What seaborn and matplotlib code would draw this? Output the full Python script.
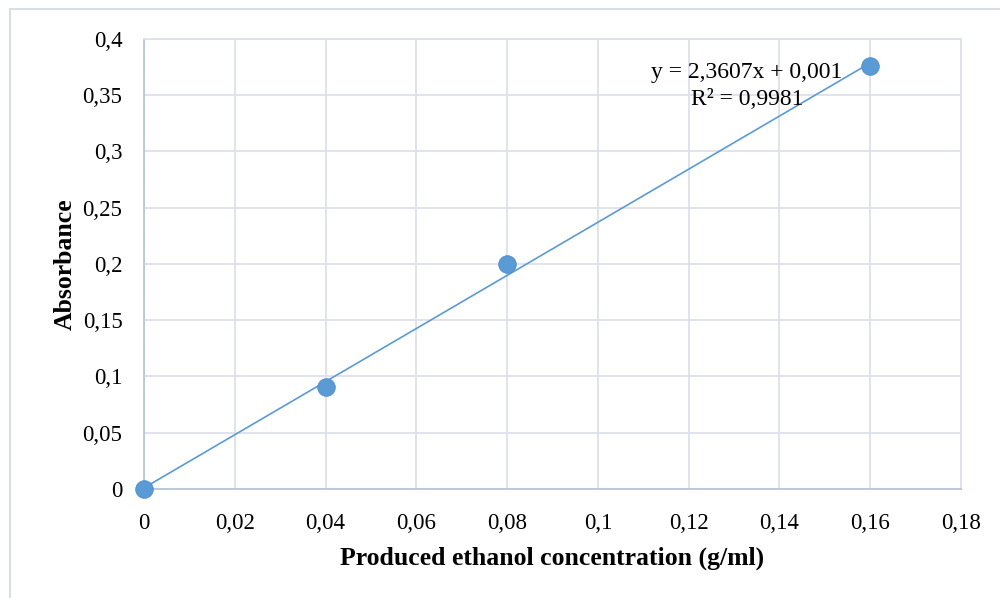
#Calibration curve: absorbance vs produced ethanol concentration

#import libraries
import numpy as np
import pandas as pd
import matplotlib
matplotlib.use('Agg')
import matplotlib.pyplot as plt
import seaborn as sns
from matplotlib.patches import Rectangle

#data
concentration = [0.0, 0.04, 0.08, 0.16]
absorbance = [0.0, 0.091, 0.2, 0.376]
#trendline as reported on the chart
slope = 2.3607
intercept = 0.001
r_squared = 0.9981
x_ticks = [0, 0.02, 0.04, 0.06, 0.08, 0.1, 0.12, 0.14, 0.16, 0.18]
y_ticks = [0, 0.05, 0.1, 0.15, 0.2, 0.25, 0.3, 0.35, 0.4]

df = pd.DataFrame({'conc': concentration, 'abs': absorbance})
trend = pd.DataFrame({'conc': [min(concentration), max(concentration)]})
trend['abs'] = slope * trend['conc'] + intercept

sns.set_style('white')
plt.rcParams['font.family'] = ['Liberation Serif', 'DejaVu Serif']
plt.rcParams['text.color'] = 'black'
plt.rcParams['axes.labelcolor'] = 'black'

blue = '#5b9bd5'
grid_col = '#dde1ea'
axis_col = '#b9c4da'

fig = plt.figure(figsize=(10, 5.98), dpi=100)
ax = fig.add_axes([0.144, 0.1823, 0.817, 0.7525])

#trendline then points
sns.lineplot(data=trend, x='conc', y='abs', color=blue, linewidth=1.2, ax=ax, zorder=3)
sns.scatterplot(data=df, x='conc', y='abs', color=blue, s=160, edgecolor='#4a8ccc',
                linewidth=0.6, ax=ax, zorder=4, clip_on=False)

def comma(v):
    s = ('%g' % v)
    return s.replace('.', ',')

ax.set_xlim(0, 0.18)
ax.set_ylim(0, 0.4)
ax.set_xticks(x_ticks)
ax.set_yticks(y_ticks)
ax.set_xticklabels([comma(v) for v in x_ticks], fontsize=16.5)
ax.set_yticklabels([comma(v) for v in y_ticks], fontsize=16.5)
ax.tick_params(axis='both', length=0, colors='black')
ax.tick_params(axis='y', pad=15.5)
ax.tick_params(axis='x', pad=17)

ax.grid(True, color=grid_col, linewidth=1.3)
ax.set_axisbelow(True)
for side in ['top', 'right']:
    ax.spines[side].set_color(grid_col)
    ax.spines[side].set_linewidth(1.3)
for side in ['left', 'bottom']:
    ax.spines[side].set_color(axis_col)
    ax.spines[side].set_linewidth(1.3)

ax.set_xlabel('Produced ethanol concentration (g/ml)', fontsize=18.5, fontweight='bold', labelpad=9)
ax.set_ylabel('Absorbance', fontsize=18.5, fontweight='bold', labelpad=4)

#trendline equation
eq = 'y = %sx + %s' % (comma(slope), comma(intercept))
ax.text(0.1328, 0.3698, eq, fontsize=17, ha='center', va='center', zorder=5)
ax.text(0.1328, 0.3458, 'R² = ' + comma(r_squared), fontsize=17, ha='center', va='center', zorder=5)

#outer chart frame
fig.patches.append(Rectangle((0.01, -0.05), 1.05, 1.035, transform=fig.transFigure,
                             fill=False, edgecolor='#d9dde6', linewidth=1.5))

plt.savefig('out.png', dpi=100)
